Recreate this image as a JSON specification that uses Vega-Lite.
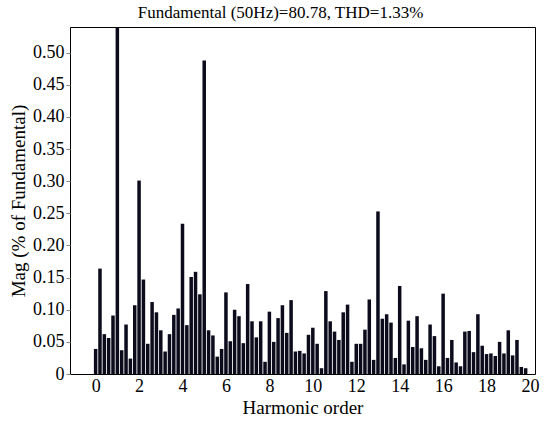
{
  "$schema": "https://vega.github.io/schema/vega-lite/v6.json",
  "autosize": "none",
  "width": 465,
  "height": 347,
  "padding": {"left": 70, "top": 27, "right": 9, "bottom": 50},
  "background": "white",
  "title": {
    "text": "Fundamental (50Hz)=80.78, THD=1.33%",
    "font": "Liberation Serif",
    "fontSize": 17,
    "fontWeight": "normal",
    "color": "black",
    "anchor": "middle",
    "dx": -22,
    "offset": 5
  },
  "config": {
    "font": "Liberation Serif",
    "view": {"stroke": "black", "strokeWidth": 1},
    "axis": {
      "labelFont": "Liberation Serif",
      "titleFont": "Liberation Serif",
      "labelColor": "black",
      "titleColor": "black",
      "labelFontSize": 18,
      "titleFontSize": 19,
      "titleFontWeight": "normal",
      "grid": false,
      "domain": false,
      "tickColor": "#888888"
    }
  },
  "data": {
    "values": [
      {"h": 0.0, "mag": 0.039}, {"h": 0.2, "mag": 0.164}, {"h": 0.4, "mag": 0.062}, {"h": 0.6, "mag": 0.056}, {"h": 0.8, "mag": 0.091},
      {"h": 1.0, "mag": 0.56}, {"h": 1.2, "mag": 0.037}, {"h": 1.4, "mag": 0.077}, {"h": 1.6, "mag": 0.024}, {"h": 1.8, "mag": 0.107},
      {"h": 2.0, "mag": 0.301}, {"h": 2.2, "mag": 0.147}, {"h": 2.4, "mag": 0.047}, {"h": 2.6, "mag": 0.112}, {"h": 2.8, "mag": 0.096},
      {"h": 3.0, "mag": 0.068}, {"h": 3.2, "mag": 0.035}, {"h": 3.4, "mag": 0.062}, {"h": 3.6, "mag": 0.092}, {"h": 3.8, "mag": 0.102},
      {"h": 4.0, "mag": 0.234}, {"h": 4.2, "mag": 0.076}, {"h": 4.4, "mag": 0.151}, {"h": 4.6, "mag": 0.159}, {"h": 4.8, "mag": 0.124},
      {"h": 5.0, "mag": 0.488}, {"h": 5.2, "mag": 0.068}, {"h": 5.4, "mag": 0.060}, {"h": 5.6, "mag": 0.027}, {"h": 5.8, "mag": 0.039},
      {"h": 6.0, "mag": 0.127}, {"h": 6.2, "mag": 0.051}, {"h": 6.4, "mag": 0.100}, {"h": 6.6, "mag": 0.090}, {"h": 6.8, "mag": 0.048},
      {"h": 7.0, "mag": 0.140}, {"h": 7.2, "mag": 0.082}, {"h": 7.4, "mag": 0.057}, {"h": 7.6, "mag": 0.082}, {"h": 7.8, "mag": 0.019},
      {"h": 8.0, "mag": 0.097}, {"h": 8.2, "mag": 0.050}, {"h": 8.4, "mag": 0.087}, {"h": 8.6, "mag": 0.107}, {"h": 8.8, "mag": 0.064},
      {"h": 9.0, "mag": 0.115}, {"h": 9.2, "mag": 0.035}, {"h": 9.4, "mag": 0.036}, {"h": 9.6, "mag": 0.032}, {"h": 9.8, "mag": 0.061},
      {"h": 10.0, "mag": 0.072}, {"h": 10.2, "mag": 0.047}, {"h": 10.4, "mag": 0.009}, {"h": 10.6, "mag": 0.129}, {"h": 10.8, "mag": 0.082},
      {"h": 11.0, "mag": 0.066}, {"h": 11.2, "mag": 0.053}, {"h": 11.4, "mag": 0.096}, {"h": 11.6, "mag": 0.108}, {"h": 11.8, "mag": 0.019},
      {"h": 12.0, "mag": 0.047}, {"h": 12.2, "mag": 0.047}, {"h": 12.4, "mag": 0.069}, {"h": 12.6, "mag": 0.116}, {"h": 12.8, "mag": 0.022},
      {"h": 13.0, "mag": 0.253}, {"h": 13.2, "mag": 0.086}, {"h": 13.4, "mag": 0.093}, {"h": 13.6, "mag": 0.080}, {"h": 13.8, "mag": 0.025},
      {"h": 14.0, "mag": 0.137}, {"h": 14.2, "mag": 0.015}, {"h": 14.4, "mag": 0.083}, {"h": 14.6, "mag": 0.042}, {"h": 14.8, "mag": 0.090},
      {"h": 15.0, "mag": 0.040}, {"h": 15.2, "mag": 0.022}, {"h": 15.4, "mag": 0.077}, {"h": 15.6, "mag": 0.059}, {"h": 15.8, "mag": 0.012},
      {"h": 16.0, "mag": 0.125}, {"h": 16.2, "mag": 0.025}, {"h": 16.4, "mag": 0.053}, {"h": 16.6, "mag": 0.018}, {"h": 16.8, "mag": 0.012},
      {"h": 17.0, "mag": 0.066}, {"h": 17.2, "mag": 0.067}, {"h": 17.4, "mag": 0.034}, {"h": 17.6, "mag": 0.093}, {"h": 17.8, "mag": 0.044},
      {"h": 18.0, "mag": 0.031}, {"h": 18.2, "mag": 0.032}, {"h": 18.4, "mag": 0.028}, {"h": 18.6, "mag": 0.050}, {"h": 18.8, "mag": 0.032},
      {"h": 19.0, "mag": 0.068}, {"h": 19.2, "mag": 0.029}, {"h": 19.4, "mag": 0.053}, {"h": 19.6, "mag": 0.011}, {"h": 19.8, "mag": 0.009}
    ]
  },
  "mark": {"type": "bar", "width": 3.5, "color": "#0b0b1c", "clip": true},
  "encoding": {
    "x": {
      "field": "h",
      "type": "quantitative",
      "scale": {"domain": [-0.95, 20], "nice": false, "zero": false},
      "axis": {
        "title": "Harmonic order",
        "values": [0, 2, 4, 6, 8, 10, 12, 14, 16, 18, 20],
        "format": "d",
        "ticks": false,
        "labelPadding": 3,
        "titlePadding": 3
      }
    },
    "y": {
      "field": "mag",
      "type": "quantitative",
      "scale": {"domain": [0, 0.54], "nice": false},
      "axis": {
        "title": "Mag (% of Fundamental)",
        "values": [0, 0.05, 0.1, 0.15, 0.2, 0.25, 0.3, 0.35, 0.4, 0.45, 0.5],
        "labelExpr": "datum.value == 0 ? '0' : format(datum.value, '.2f')",
        "tickSize": 4,
        "labelPadding": 2,
        "titlePadding": 4
      }
    }
  }
}
